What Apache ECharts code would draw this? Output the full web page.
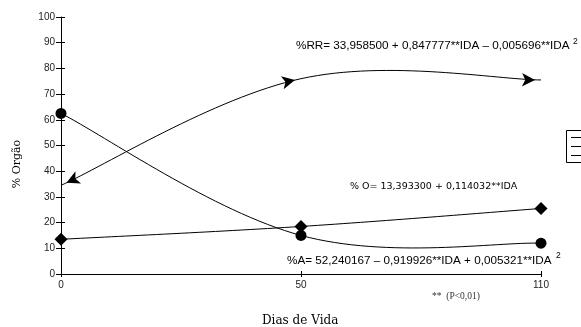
<!DOCTYPE html>
<html>
<head>
<meta charset="utf-8">
<script src="https://cdn.jsdelivr.net/npm/echarts@6/dist/echarts.min.js"></script>
<style>html,body{margin:0;padding:0;background:#fff}#c{width:581px;height:327px}</style>
</head>
<body>
<div id="c"></div>
<script>
var categories = ['0', '50', '110'];
var yTicks = [0, 10, 20, 30, 40, 50, 60, 70, 80, 90, 100];
var seriesA = [62.5, 15, 12];
var seriesO = [13.5, 18.5, 25.5];
var seriesRR = [34.5, 76, 75.5];
var eqRR = '%RR= 33,958500 + 0,847777**IDA \u2013 0,005696**IDA';
var eqO = '% O= 13,393300 + 0,114032**IDA';
var eqA = '%A= 52,240167 \u2013 0,919926**IDA + 0,005321**IDA';
var note = '**  (P<0,01)';
var xTitle = 'Dias de Vida';
var yTitle = '% Org\u00e3o';

var rrRot = [115, -78, -91];
var rrOff = [[5.5, -2.5], [-6, 1.3], [-6, 0]];

// smooth curve through data points (cardinal spline), positions from the axes
function curveSeries(values) {
  return {
    type: 'custom', silent: true, z: 1,
    data: values.map(function (v, i) { return [i, v]; }),
    renderItem: function (params, api) {
      if (params.dataIndex !== 0) return null;
      var p = values.map(function (v, i) { return api.coord([i, v]); });
      var k = 1 / 5.5;
      var d = 'M' + p[0][0] + ' ' + p[0][1];
      for (var i = 0; i < p.length - 1; i++) {
        var a = p[i - 1] || p[i], b = p[i], c = p[i + 1], e = p[i + 2] || p[i + 1];
        var c1 = [b[0] + (c[0] - a[0]) * k, b[1] + (c[1] - a[1]) * k];
        var c2 = [c[0] - (e[0] - b[0]) * k, c[1] - (e[1] - b[1]) * k];
        d += ' C' + c1[0] + ' ' + c1[1] + ' ' + c2[0] + ' ' + c2[1] + ' ' + c[0] + ' ' + c[1];
      }
      return {type: 'path', shape: {pathData: d}, style: {stroke: '#000', fill: 'none', lineWidth: 1}};
    }
  };
}

var chart = echarts.init(document.getElementById('c'), null, {renderer: 'canvas'});
var labelFont = {fontFamily: 'Liberation Sans', fontSize: 10, color: '#222'};
var option = {
  animation: false,
  backgroundColor: '#fff',
  grid: {left: 61, right: 40, top: 17, bottom: 53},
  xAxis: [{
    type: 'category', data: categories, boundaryGap: false,
    axisLine: {lineStyle: {color: '#000', width: 1}},
    axisTick: {show: true, length: 3, lineStyle: {color: '#000'}},
    axisLabel: Object.assign({margin: 6}, labelFont),
    splitLine: {show: false}
  }, {
    type: 'category', data: categories, boundaryGap: false, position: 'bottom',
    axisLine: {show: false}, axisTick: {show: true, inside: true, length: 3, lineStyle: {color: '#000'}},
    axisLabel: {show: false}, splitLine: {show: false}
  }],
  yAxis: [{
    type: 'value', min: 0, max: 100, interval: 10,
    axisLine: {show: true, lineStyle: {color: '#000', width: 1}},
    axisTick: {show: true, length: 5, lineStyle: {color: '#000'}},
    axisLabel: Object.assign({margin: 6}, labelFont),
    splitLine: {show: false}
  }, {
    type: 'value', min: 0, max: 100, interval: 10, position: 'left',
    axisLine: {show: false}, axisTick: {show: true, inside: true, length: 4, lineStyle: {color: '#000'}},
    axisLabel: {show: false}, splitLine: {show: false}
  }],
  series: [
    curveSeries(seriesA),
    curveSeries(seriesO),
    curveSeries(seriesRR),
  {
    type: 'line', name: 'A', data: seriesA, z: 3,
    symbol: 'circle', symbolSize: 11, lineStyle: {opacity: 0},
    itemStyle: {color: '#000'}
  }, {
    type: 'line', name: 'O', data: seriesO, z: 3,
    symbol: 'diamond', symbolSize: [13, 13], lineStyle: {opacity: 0},
    itemStyle: {color: '#000'}
  }, {
    type: 'line', name: 'RR', z: 3,
    data: seriesRR.map(function (v, i) {
      return {value: v, symbolRotate: rrRot[i], symbolOffset: rrOff[i]};
    }),
    symbol: 'arrow', symbolSize: [10, 13], lineStyle: {opacity: 0},
    itemStyle: {color: '#000'}
  }],
  graphic: [
    {type: 'text', left: 296, top: 40, style: {text: eqRR, font: '11.7px "Liberation Sans"', fill: '#000'}},
    {type: 'text', left: 573, top: 37, style: {text: '2', font: '8.5px "Liberation Sans"', fill: '#000'}},
    {type: 'text', left: 350, top: 182, style: {text: eqO, font: '9.5px "DejaVu Sans"', fill: '#000'}},
    {type: 'text', left: 287, top: 255, style: {text: eqA, font: '11.7px "Liberation Sans"', fill: '#000'}},
    {type: 'text', left: 556, top: 251, style: {text: '2', font: '8.5px "Liberation Sans"', fill: '#000'}},
    {type: 'text', left: 432, top: 291, style: {text: note, font: '9.5px "Liberation Serif"', fill: '#333'}},
    {type: 'text', left: 262, top: 315, style: {text: xTitle, font: '12px "DejaVu Serif"', fill: '#000'}},
    {type: 'text', x: 17, y: 164, rotation: Math.PI / 2, style: {text: yTitle, font: '11px "DejaVu Serif"', fill: '#000', align: 'center', verticalAlign: 'middle'}},
    {type: 'rect', shape: {x: 566.5, y: 130.5, width: 20, height: 32}, style: {fill: '#fff', stroke: '#000', lineWidth: 1}},
    {type: 'line', shape: {x1: 571, y1: 137.5, x2: 581, y2: 137.5}, style: {stroke: '#000', lineWidth: 1}},
    {type: 'line', shape: {x1: 571, y1: 146.5, x2: 581, y2: 146.5}, style: {stroke: '#000', lineWidth: 1}},
    {type: 'line', shape: {x1: 571, y1: 155.5, x2: 581, y2: 155.5}, style: {stroke: '#000', lineWidth: 1}}
  ]
};
chart.setOption(option);
</script>
</body>
</html>
